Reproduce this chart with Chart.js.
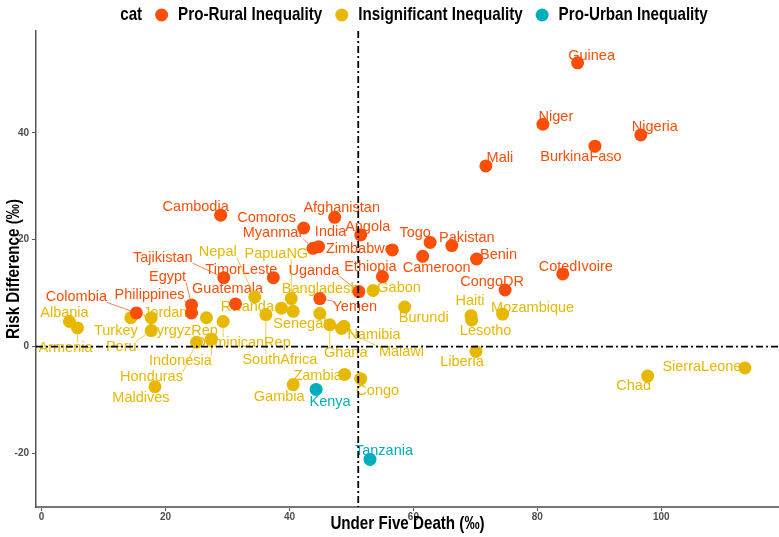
<!DOCTYPE html>
<html><head><meta charset="utf-8">
<script src="https://cdn.jsdelivr.net/npm/chart.js@4.4.1/dist/chart.umd.min.js"></script>
<style>html,body{margin:0;padding:0;background:#fff;}#wrap{width:779px;height:537px;}</style>
</head><body><div id="wrap"><canvas id="c" width="779" height="537"></canvas></div>
<script>
// ---------- DATA ----------
const categories = ["Pro-Rural Inequality", "Insignificant Inequality", "Pro-Urban Inequality"];
const legendTitle = "cat";
const xTitle = "Under Five Death (‰)";
const yTitle = "Risk Difference (‰)";
const xTicks = [0, 20, 40, 60, 80, 100];
const yTicks = [-20, 0, 20, 40];
const refX = 51.1;   // vertical reference line
const refY = 0;      // horizontal reference line

const ruralNames = ["Guinea","Niger","Nigeria","BurkinaFaso","Mali","Cambodia","Comoros","Afghanistan","Myanmar","India","Angola","Zimbabwe","Togo","Pakistan","Cameroon","Benin","CotedIvoire","CongoDR","Ethiopia","Uganda","Yemen","Tajikistan","TimorLeste","Guatemala","Egypt","Philippines","Colombia"];
const ruralX = [86.5,80.9,96.7,89.3,71.7,28.9,42.3,47.3,43.8,44.7,51.5,56.6,62.7,66.2,61.5,70.2,84.1,74.8,55.0,51.2,44.9,29.4,37.4,31.3,24.2,24.2,15.3];
const ruralY = [53.1,41.6,39.6,37.5,33.8,24.6,22.2,24.2,18.4,18.7,20.9,18.1,19.5,18.9,16.9,16.4,13.6,10.6,13.1,10.3,9.0,12.9,12.9,8.0,7.8,6.3,6.3];

const insigNames = ["Albania","Armenia","Turkey","Jordan","Peru","KyrgyzRep","DominicanRep","Honduras","Indonesia","Maldives","Nepal","SouthAfrica","Rwanda","PapuaNG","Bangladesh","Senegal","Ghana","Namibia","Malawi","Gabon","Burundi","Haiti","Lesotho","Mozambique","Liberia","Chad","SierraLeone","Zambia","Gambia","Congo"];
const insigX = [4.5,5.8,14.4,17.7,17.7,26.6,29.3,25.0,27.4,18.3,34.4,36.2,38.7,40.3,40.6,44.9,46.5,48.8,48.4,53.5,58.6,69.3,69.4,74.4,70.1,97.8,113.5,48.9,40.6,51.5];
const insigY = [4.7,3.5,5.4,5.4,3.0,5.4,4.7,0.8,1.4,-7.5,9.3,6.0,7.2,9.0,6.6,6.2,4.1,3.8,3.4,10.5,7.4,5.8,5.0,6.1,-0.9,-5.5,-4.0,-5.2,-7.1,-6.0];

const urbanNames = ["Kenya","Tanzania"];
const urbanX = [44.3,53.0];
const urbanY = [-8.0,-21.1];

// ---------- LAYOUT / STYLE ----------
const COLORS = ["#FC4E07", "#E7B800", "#00AFBB"];
const SANS = '"Liberation Sans",Arial,sans-serif';
const NARROW_SCALE = 0.82;   // emulate a condensed bold face
const R = 6.5;
// label text-centre offsets (px) from each point, mimicking the repelled labels
const labelOffsets = {
 Guinea:[14,-7],Niger:[13,-7],Nigeria:[14,-8],BurkinaFaso:[-14,11],Mali:[14,-8],Cambodia:[-25,-8],Comoros:[-37,-10],
 Afghanistan:[7,-9],Myanmar:[-40,-15],India:[12,-15],Angola:[7,-8],Zimbabwe:[-33,-1],Togo:[-15,-9],Pakistan:[15,-8],
 Cameroon:[14,12],Benin:[22,-4],CotedIvoire:[13,-7],CongoDR:[-13,-8],Ethiopia:[-12,-10],Uganda:[-45,-21],Yemen:[35,8],
 Tajikistan:[-61,-20],TimorLeste:[-32,-8],Guatemala:[-8,-15],Egypt:[-24,-28],Philippines:[-42,-18],Colombia:[-60,-16],
 Albania:[-5,-9],Armenia:[-12,20],Turkey:[-15,13],Jordan:[14,-5],Peru:[-30,16],KyrgyzRep:[-24,13],DominicanRep:[20,21],
 Honduras:[-45,35],Indonesia:[-31,22],Maldives:[-14,11],Nepal:[-37,-45],SouthAfrica:[14,45],Rwanda:[-34,-1],
 PapuaNG:[-15,-45],Bangladesh:[27,-22],Senegal:[-20,11],Ghana:[16,28],Namibia:[30,9],Malawi:[60,24],Gabon:[26,-3],
 Burundi:[19,11],Haiti:[-1,-15],Lesotho:[14,11],Mozambique:[30,-6],Liberia:[-14,11],Chad:[-14,10],SierraLeone:[-43,-1],
 Zambia:[-27,2],Gambia:[-14,12],Congo:[17,12],Kenya:[14,13],Tanzania:[14,-8]
};

function pts(xs, ys){ return xs.map((x,i)=>({x:x, y:ys[i]})); }

function narrowText(ctx, text, x, y, align){
  ctx.save();
  ctx.translate(x, y);
  ctx.scale(NARROW_SCALE, 1);
  ctx.textAlign = align;
  ctx.fillText(text, 0, 0);
  ctx.restore();
}

const labelPlugin = {
  id: 'repelLabels',
  beforeDatasetsDraw(chart){
    const ctx = chart.ctx;
    ctx.save();
    ctx.font = '14.5px ' + SANS;
    ctx.textAlign = 'center';
    ctx.textBaseline = 'middle';
    chart.data.datasets.forEach((ds, di) => {
      const meta = chart.getDatasetMeta(di);
      meta.data.forEach((el, i) => {
        const name = ds.names[i];
        const off = labelOffsets[name] || [12, -10];
        const lx = el.x + off[0], ly = el.y + off[1];
        const w = ctx.measureText(name).width, h = 11;
        const bx = Math.max(lx - w/2, Math.min(el.x, lx + w/2));
        const by = Math.max(ly - h/2, Math.min(el.y, ly + h/2));
        const dx = el.x - bx, dy = el.y - by, d = Math.hypot(dx, dy);
        if (d > 11) {
          ctx.strokeStyle = ds.backgroundColor;
          ctx.lineWidth = 0.7;
          ctx.beginPath();
          ctx.moveTo(bx, by);
          ctx.lineTo(el.x - dx/d*R, el.y - dy/d*R);
          ctx.stroke();
        }
        ctx.fillStyle = ds.backgroundColor;
        ctx.fillText(name, lx, ly);
      });
    });
    ctx.restore();
  },
  afterDatasetsDraw(chart){
    const ctx = chart.ctx, a = chart.chartArea;
    const xs = chart.scales.x, ys = chart.scales.y;
    ctx.save();
    ctx.strokeStyle = '#000';
    ctx.lineWidth = 1.8;
    ctx.setLineDash([7, 3, 2, 3]);
    const px = xs.getPixelForValue(refX);
    ctx.beginPath(); ctx.moveTo(px, a.top); ctx.lineTo(px, a.bottom); ctx.stroke();
    const py = ys.getPixelForValue(refY);
    ctx.beginPath(); ctx.moveTo(a.left, py); ctx.lineTo(a.right, py); ctx.stroke();
    ctx.restore();
  },
  afterDraw(chart){
    const ctx = chart.ctx, a = chart.chartArea;
    ctx.save();
    ctx.font = 'bold 18.5px ' + SANS;
    ctx.textBaseline = 'middle';
    ctx.fillStyle = '#000';
    // axis titles
    narrowText(ctx, xTitle, (a.left + a.right)/2, 524, 'center');
    ctx.save();
    ctx.translate(14, (a.top + a.bottom)/2);
    ctx.rotate(-Math.PI/2);
    narrowText(ctx, yTitle, 0, 0, 'center');
    ctx.restore();
    // legend
    const wT = ctx.measureText(legendTitle).width * NARROW_SCALE;
    const ws = categories.map(c => ctx.measureText(c).width * NARROW_SCALE);
    const total = wT + ws.reduce((s, w) => s + 13 + 2*R + 10 + w, 0) - 13;
    let x = (a.left + a.right)/2 - total/2;
    const y = 15;
    narrowText(ctx, legendTitle, x, y, 'left');
    x += wT + 13;
    categories.forEach((c, i) => {
      ctx.fillStyle = COLORS[i];
      ctx.beginPath(); ctx.arc(x + R, y, R, 0, Math.PI*2); ctx.fill();
      x += 2*R + 10;
      ctx.fillStyle = '#000';
      narrowText(ctx, c, x, y, 'left');
      x += ws[i] + 13;
    });
    ctx.restore();
  }
};

new Chart(document.getElementById('c'), {
  type: 'scatter',
  data: {
    datasets: [
      {label: categories[0], names: ruralNames, data: pts(ruralX, ruralY), backgroundColor: COLORS[0]},
      {label: categories[1], names: insigNames, data: pts(insigX, insigY), backgroundColor: COLORS[1]},
      {label: categories[2], names: urbanNames, data: pts(urbanX, urbanY), backgroundColor: COLORS[2]}
    ].map(d => Object.assign(d, {pointRadius: R, pointBorderWidth: 0, borderColor: d.backgroundColor, pointHoverRadius: R}))
  },
  options: {
    responsive: false,
    animation: false,
    events: [],
    layout: {autoPadding: false, padding: {top: 31, right: 0, bottom: 0, left: 0}},
    plugins: {legend: {display: false}, tooltip: {enabled: false}},
    scales: {
      x: {
        type: 'linear', min: -0.9, max: 119,
        afterBuildTicks: s => { s.ticks = xTicks.map(v => ({value: v})); },
        afterFit: s => { s.height = 30; },
        grid: {drawOnChartArea: false, drawTicks: true, tickLength: 4, color: '#555'},
        border: {display: true, color: '#777', width: 2},
        ticks: {font: {family: SANS, size: 10, weight: 'bold'}, color: '#4d4d4d', padding: 0, maxRotation: 0},
        title: {display: false}
      },
      y: {
        type: 'linear', min: -30.0, max: 59.05,
        afterBuildTicks: s => { s.ticks = yTicks.map(v => ({value: v})); },
        afterFit: s => { s.width = 36; },
        grid: {drawOnChartArea: false, drawTicks: true, tickLength: 4, color: '#555'},
        border: {display: true, color: '#555', width: 1.5},
        ticks: {font: {family: SANS, size: 10, weight: 'bold'}, color: '#4d4d4d', padding: 3},
        title: {display: false}
      }
    }
  },
  plugins: [labelPlugin]
});
</script>
</body></html>
